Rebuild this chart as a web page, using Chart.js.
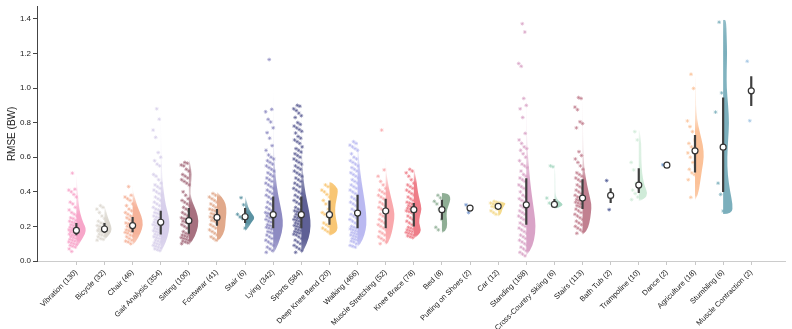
<!DOCTYPE html>
<html>
<head>
<meta charset="utf-8">
<script src="https://cdn.jsdelivr.net/npm/chart.js"></script>
<style>
	html, body { margin: 0; padding: 0; background: #fff; }
	#wrap { width: 792px; height: 329px; }
</style>
</head>
<body>
<div id="wrap"><canvas id="chart"></canvas></div>
<script>
// categories (with sample counts) in plotted order
const categories = ['Vibration (130)', 'Bicycle (32)', 'Chair (46)', 'Gait Analysis (354)', 'Sitting (100)',
	'Footwear (41)', 'Stair (6)', 'Lying (342)', 'Sports (584)', 'Deep Knee Bend (20)', 'Walking (466)',
	'Muscle Stretching (52)', 'Knee Brace (78)', 'Bed (8)', 'Putting on Shoes (2)', 'Car (12)', 'Standing (168)',
	'Cross-Country Skiing (6)', 'Stairs (113)', 'Bath Tub (2)', 'Trampoline (10)', 'Dance (2)', 'Agriculture (18)',
	'Stumbling (6)', 'Muscle Contraction (2)'];

const yTicks = [0, 0.2, 0.4, 0.6, 0.8, 1.0, 1.2, 1.4];

// box summary (RMSE in BW)
const medians = [0.177, 0.185, 0.205, 0.224, 0.233, 0.252, 0.256, 0.268, 0.268, 0.268, 0.277, 0.289, 0.297, 0.297, 0.306, 0.316, 0.325, 0.327, 0.364, 0.379, 0.439, 0.554, 0.637, 0.658, 0.984];
const q1 = [0.149, 0.162, 0.166, 0.153, 0.157, 0.204, 0.22, 0.19, 0.19, 0.21, 0.19, 0.19, 0.2, 0.239, 0.297, 0.297, 0.21, 0.32, 0.30, 0.335, 0.393, 0.552, 0.512, 0.399, 0.896];
const q3 = [0.22, 0.22, 0.255, 0.29, 0.306, 0.30, 0.306, 0.373, 0.373, 0.35, 0.383, 0.36, 0.335, 0.354, 0.315, 0.335, 0.479, 0.358, 0.473, 0.42, 0.537, 0.556, 0.729, 0.946, 1.069];

// half-violin density outlines: [rmse, density]
const vibrationKde = [[0.075, 0], [0.09, 2], [0.12, 5], [0.16, 9], [0.19, 9.5], [0.22, 7], [0.27, 4], [0.32, 2.5], [0.38, 1.5], [0.44, 0.8], [0.5, 0]];
const bicycleKde = [[0.12, 0], [0.14, 3], [0.17, 7], [0.2, 7], [0.24, 4], [0.28, 2], [0.32, 0]];
const chairKde = [[0.09, 0], [0.11, 3], [0.16, 8], [0.21, 10.5], [0.26, 9], [0.31, 5], [0.36, 2.5], [0.40, 0.5], [0.44, 0]];
const gaitKde = [[0.055, 0], [0.08, 3], [0.14, 7], [0.2, 9], [0.26, 8], [0.32, 5], [0.4, 3], [0.48, 1.5], [0.6, 0.8], [0.75, 0.3], [0.9, 0]];
const sittingKde = [[0.09, 0], [0.12, 4], [0.17, 8], [0.23, 10], [0.29, 7.5], [0.34, 3.5], [0.39, 1.5], [0.44, 2], [0.5, 3], [0.56, 1.5], [0.59, 0]];
const footwearKde = [[0.11, 0], [0.13, 4], [0.18, 8], [0.23, 8.5], [0.28, 9.5], [0.33, 9], [0.37, 5], [0.40, 0]];
const stairKde = [[0.17, 0], [0.19, 3], [0.22, 6], [0.25, 10], [0.28, 6], [0.31, 3], [0.34, 2], [0.375, 0]];
const lyingKde = [[0.04, 0], [0.07, 3], [0.13, 7], [0.2, 10], [0.27, 9], [0.35, 6], [0.43, 3.5], [0.52, 2], [0.6, 1], [0.7, 0.5], [0.85, 0.3], [1.0, 0]];
const sportsKde = [[0.04, 0], [0.07, 3], [0.13, 7.5], [0.2, 9.5], [0.27, 8.5], [0.35, 5.5], [0.43, 3], [0.52, 1.5], [0.6, 0.8], [0.75, 0.4], [0.91, 0]];
const kneeBendKde = [[0.145, 0], [0.16, 6], [0.19, 8.5], [0.23, 7], [0.28, 5.5], [0.33, 6], [0.38, 8], [0.42, 8.5], [0.45, 3], [0.46, 0]];
const walkingKde = [[0.08, 0], [0.1, 3], [0.15, 7], [0.21, 9], [0.28, 8.5], [0.35, 7], [0.42, 5], [0.5, 3], [0.58, 1.5], [0.66, 0.6], [0.7, 0]];
const stretchingKde = [[0.09, 0], [0.11, 3], [0.16, 6], [0.22, 8], [0.27, 9], [0.33, 7], [0.4, 4], [0.46, 2], [0.52, 0.5], [0.6, 0]];
const kneeBraceKde = [[0.13, 0], [0.15, 5], [0.18, 7.5], [0.22, 5], [0.26, 6], [0.3, 8], [0.35, 6], [0.4, 4], [0.45, 3], [0.5, 1.5], [0.53, 0]];
const bedKde = [[0.16, 0], [0.175, 4], [0.21, 5.5], [0.26, 4.5], [0.3, 5], [0.34, 8], [0.37, 8.5], [0.39, 6], [0.395, 0]];
const carKde = [[0.255, 0], [0.27, 3], [0.3, 4], [0.32, 6], [0.335, 8], [0.35, 0]];
const standingKde = [[0.03, 0], [0.06, 4], [0.12, 8], [0.2, 9.5], [0.28, 8], [0.36, 6], [0.45, 4], [0.55, 2.5], [0.65, 1.2], [0.75, 0.6], [0.9, 0.3], [1.0, 0]];
const skiingKde = [[0.3, 0], [0.31, 5], [0.325, 9], [0.34, 6], [0.36, 2], [0.4, 1], [0.5, 1], [0.555, 0]];
const stairsKde = [[0.15, 0], [0.17, 4], [0.22, 7], [0.28, 8.5], [0.33, 9], [0.4, 6], [0.47, 3.5], [0.55, 1.5], [0.65, 0.8], [0.75, 0.5], [0.9, 0.2], [0.95, 0]];
const trampolineKde = [[0.345, 0], [0.36, 6], [0.39, 9], [0.43, 6], [0.48, 4], [0.53, 3], [0.6, 2.5], [0.68, 2.5], [0.75, 1], [0.76, 0]];
const agricultureKde = [[0.35, 0], [0.38, 3], [0.45, 5], [0.53, 7], [0.6, 9], [0.67, 8], [0.75, 4.5], [0.82, 2], [0.9, 1], [1.0, 0.7], [1.09, 0]];
const stumblingKde = [[0.272, 0], [0.272, 9], [0.33, 9.5], [0.4, 7], [0.5, 4.5], [0.6, 4], [0.7, 5], [0.8, 6], [0.9, 5], [1.0, 3.5], [1.1, 3.5], [1.2, 4], [1.3, 3.5], [1.395, 3], [1.395, 0]];
const violins = [vibrationKde, bicycleKde, chairKde, gaitKde, sittingKde, footwearKde, stairKde, lyingKde, sportsKde,
	kneeBendKde, walkingKde, stretchingKde, kneeBraceKde, bedKde, [], carKde, standingKde, skiingKde, stairsKde, [],
	trampolineKde, [], agricultureKde, stumblingKde, []];

// individual trials (subset)
const vibrationPts = [0.508, 0.415, 0.41, 0.40, 0.385, 0.37, 0.34, 0.33, 0.31, 0.295, 0.28, 0.27, 0.26, 0.25, 0.245, 0.235, 0.23, 0.225, 0.22, 0.215, 0.21, 0.205, 0.2, 0.195, 0.19, 0.185, 0.18, 0.178, 0.175, 0.17, 0.168, 0.165, 0.16, 0.155, 0.15, 0.148, 0.145, 0.14, 0.135, 0.13, 0.125, 0.12, 0.115, 0.11, 0.105, 0.1, 0.095, 0.09, 0.085, 0.08, 0.07, 0.055];
const bicyclePts = [0.32, 0.31, 0.3, 0.28, 0.26, 0.245, 0.23, 0.22, 0.215, 0.205, 0.2, 0.195, 0.19, 0.185, 0.182, 0.178, 0.175, 0.17, 0.165, 0.16, 0.155, 0.15, 0.145, 0.14, 0.13, 0.125, 0.12];
const chairPts = [0.43, 0.38, 0.37, 0.36, 0.35, 0.33, 0.32, 0.3, 0.29, 0.28, 0.27, 0.26, 0.255, 0.25, 0.24, 0.23, 0.22, 0.215, 0.21, 0.205, 0.2, 0.19, 0.185, 0.18, 0.175, 0.17, 0.165, 0.16, 0.15, 0.145, 0.14, 0.13, 0.12, 0.115, 0.11, 0.1];
const gaitPts = [0.88, 0.82, 0.757, 0.715, 0.627, 0.6, 0.58, 0.56, 0.55, 0.5, 0.49, 0.47, 0.45, 0.44, 0.43, 0.42, 0.41, 0.4, 0.39, 0.38, 0.37, 0.36, 0.35, 0.34, 0.33, 0.32, 0.31, 0.3, 0.295, 0.29, 0.28, 0.275, 0.27, 0.26, 0.255, 0.25, 0.245, 0.24, 0.235, 0.23, 0.225, 0.22, 0.215, 0.21, 0.205, 0.2, 0.195, 0.19, 0.185, 0.18, 0.175, 0.17, 0.165, 0.16, 0.155, 0.15, 0.145, 0.14, 0.135, 0.13, 0.125, 0.12, 0.115, 0.11, 0.105, 0.1, 0.095, 0.09, 0.085, 0.08, 0.075, 0.07, 0.065, 0.06];
const sittingPts = [0.57, 0.565, 0.555, 0.55, 0.53, 0.52, 0.5, 0.49, 0.48, 0.47, 0.46, 0.45, 0.44, 0.4, 0.38, 0.36, 0.35, 0.34, 0.33, 0.32, 0.31, 0.3, 0.29, 0.28, 0.27, 0.26, 0.25, 0.245, 0.24, 0.235, 0.23, 0.225, 0.22, 0.21, 0.2, 0.19, 0.18, 0.17, 0.16, 0.155, 0.15, 0.145, 0.14, 0.135, 0.13, 0.125, 0.12, 0.115, 0.11, 0.105, 0.1];
const footwearPts = [0.39, 0.38, 0.37, 0.36, 0.35, 0.34, 0.33, 0.32, 0.31, 0.3, 0.295, 0.29, 0.28, 0.275, 0.27, 0.26, 0.255, 0.25, 0.245, 0.24, 0.235, 0.23, 0.22, 0.21, 0.2, 0.19, 0.18, 0.17, 0.16, 0.15, 0.14, 0.13, 0.12];
const stairPts = [0.366, 0.325, 0.27, 0.255, 0.245, 0.19];
const lyingPts = [1.165, 0.877, 0.863, 0.819, 0.804, 0.77, 0.742, 0.71, 0.667, 0.64, 0.613, 0.6, 0.59, 0.58, 0.57, 0.56, 0.55, 0.54, 0.53, 0.52, 0.51, 0.5, 0.49, 0.48, 0.47, 0.46, 0.45, 0.44, 0.43, 0.42, 0.41, 0.4, 0.39, 0.38, 0.37, 0.36, 0.35, 0.34, 0.33, 0.32, 0.31, 0.3, 0.29, 0.28, 0.275, 0.27, 0.265, 0.26, 0.25, 0.245, 0.24, 0.23, 0.225, 0.22, 0.21, 0.205, 0.2, 0.195, 0.19, 0.185, 0.18, 0.17, 0.165, 0.16, 0.15, 0.14, 0.13, 0.12, 0.11, 0.1, 0.09, 0.08, 0.07, 0.06, 0.05];
const sportsPts = [0.9, 0.895, 0.88, 0.87, 0.855, 0.84, 0.83, 0.8, 0.79, 0.78, 0.77, 0.76, 0.75, 0.74, 0.72, 0.71, 0.7, 0.69, 0.68, 0.66, 0.65, 0.64, 0.63, 0.62, 0.61, 0.6, 0.59, 0.58, 0.57, 0.56, 0.55, 0.54, 0.53, 0.52, 0.51, 0.5, 0.49, 0.48, 0.47, 0.46, 0.45, 0.44, 0.43, 0.42, 0.41, 0.4, 0.39, 0.38, 0.37, 0.36, 0.35, 0.34, 0.33, 0.32, 0.31, 0.3, 0.295, 0.29, 0.285, 0.28, 0.275, 0.27, 0.265, 0.26, 0.255, 0.25, 0.245, 0.24, 0.235, 0.23, 0.225, 0.22, 0.215, 0.21, 0.205, 0.2, 0.195, 0.19, 0.185, 0.18, 0.175, 0.17, 0.165, 0.16, 0.155, 0.15, 0.14, 0.13, 0.12, 0.11, 0.1, 0.09, 0.08, 0.07, 0.06, 0.05];
const kneeBendPts = [0.44, 0.43, 0.41, 0.4, 0.385, 0.37, 0.35, 0.33, 0.3, 0.28, 0.27, 0.26, 0.24, 0.22, 0.21, 0.2, 0.19, 0.18, 0.17, 0.16];
const walkingPts = [0.69, 0.68, 0.67, 0.66, 0.65, 0.64, 0.62, 0.6, 0.59, 0.58, 0.57, 0.56, 0.55, 0.54, 0.53, 0.52, 0.51, 0.5, 0.49, 0.48, 0.47, 0.46, 0.45, 0.44, 0.43, 0.42, 0.41, 0.4, 0.39, 0.38, 0.37, 0.36, 0.35, 0.34, 0.33, 0.32, 0.31, 0.3, 0.29, 0.28, 0.27, 0.26, 0.25, 0.24, 0.23, 0.22, 0.21, 0.2, 0.195, 0.19, 0.185, 0.18, 0.175, 0.17, 0.165, 0.16, 0.155, 0.15, 0.145, 0.14, 0.135, 0.13, 0.125, 0.12, 0.115, 0.11, 0.1, 0.09, 0.085, 0.08];
const stretchingPts = [0.757, 0.527, 0.49, 0.46, 0.44, 0.42, 0.41, 0.4, 0.39, 0.38, 0.37, 0.36, 0.35, 0.34, 0.33, 0.32, 0.31, 0.3, 0.29, 0.28, 0.27, 0.26, 0.25, 0.24, 0.23, 0.22, 0.21, 0.2, 0.19, 0.18, 0.17, 0.16, 0.15, 0.14, 0.13, 0.12, 0.11, 0.1];
const kneeBracePts = [0.53, 0.52, 0.51, 0.49, 0.47, 0.45, 0.44, 0.43, 0.42, 0.41, 0.4, 0.39, 0.38, 0.37, 0.36, 0.35, 0.34, 0.335, 0.33, 0.325, 0.32, 0.315, 0.31, 0.305, 0.3, 0.295, 0.29, 0.285, 0.28, 0.27, 0.26, 0.25, 0.24, 0.23, 0.22, 0.21, 0.2, 0.195, 0.19, 0.185, 0.18, 0.175, 0.17, 0.165, 0.16, 0.155, 0.15, 0.145, 0.14, 0.135];
const bedPts = [0.38, 0.365, 0.345, 0.33, 0.3, 0.24, 0.195, 0.18];
const shoesPts = [0.325, 0.28];
const carPts = [0.345, 0.34, 0.335, 0.33, 0.325, 0.32, 0.315, 0.31, 0.3, 0.29, 0.28, 0.27];
const standingPts = [1.372, 1.324, 1.142, 1.126, 0.94, 0.9, 0.88, 0.83, 0.738, 0.7, 0.68, 0.66, 0.65, 0.64, 0.62, 0.6, 0.58, 0.56, 0.55, 0.54, 0.52, 0.5, 0.49, 0.48, 0.47, 0.46, 0.44, 0.43, 0.42, 0.41, 0.4, 0.38, 0.37, 0.36, 0.35, 0.34, 0.33, 0.32, 0.31, 0.3, 0.29, 0.28, 0.27, 0.26, 0.25, 0.24, 0.23, 0.22, 0.21, 0.2, 0.19, 0.18, 0.17, 0.16, 0.15, 0.14, 0.13, 0.12, 0.11, 0.1, 0.09, 0.08, 0.07, 0.06, 0.05, 0.04, 0.03];
const skiingPts = [0.55, 0.545, 0.364, 0.335, 0.325, 0.32];
const stairsPts = [0.945, 0.94, 0.89, 0.875, 0.805, 0.795, 0.77, 0.632, 0.61, 0.59, 0.57, 0.55, 0.53, 0.51, 0.5, 0.49, 0.48, 0.47, 0.46, 0.45, 0.44, 0.43, 0.42, 0.41, 0.4, 0.39, 0.38, 0.37, 0.365, 0.36, 0.355, 0.35, 0.345, 0.34, 0.335, 0.33, 0.325, 0.32, 0.315, 0.31, 0.3, 0.29, 0.28, 0.27, 0.26, 0.25, 0.24, 0.23, 0.22, 0.21, 0.2, 0.19, 0.18, 0.17, 0.16];
const bathTubPts = [0.465, 0.297];
const trampolinePts = [0.748, 0.70, 0.57, 0.527, 0.45, 0.43, 0.41, 0.39, 0.37, 0.355];
const dancePts = [0.556, 0.552];
const agriculturePts = [1.08, 0.998, 0.81, 0.777, 0.748, 0.7, 0.68, 0.66, 0.65, 0.625, 0.6, 0.57, 0.55, 0.53, 0.51, 0.5, 0.47, 0.368];
const stumblingPts = [1.381, 0.972, 0.861, 0.45, 0.385, 0.289];
const contractionPts = [1.155, 0.811];
const points = [vibrationPts, bicyclePts, chairPts, gaitPts, sittingPts, footwearPts, stairPts, lyingPts, sportsPts,
	kneeBendPts, walkingPts, stretchingPts, kneeBracePts, bedPts, shoesPts, carPts, standingPts, skiingPts, stairsPts,
	bathTubPts, trampolinePts, dancePts, agriculturePts, stumblingPts, contractionPts];

const colors = ['#f7a6c9', '#dcd8d0', '#f6b39a', '#d7cfeb', '#a7707f', '#e1a98b', '#5a92a2', '#8e8bc2', '#5e6095',
	'#f8c674', '#bab9f1', '#f9a8ac', '#ee7d88', '#8fae95', '#6b8fca', '#f4da8b', '#d9a3c7', '#a7d7c2', '#c18090',
	'#45528f', '#cfebd8', '#5f8ec8', '#fbc198', '#7bafbc', '#9fc3e2'];

const FONT = 'Liberation Sans, Arial, Helvetica, sans-serif';
const KDE_SCALE = 1 / 28;   // density -> category units

function rgba(hex, a) {
	const n = parseInt(hex.slice(1), 16);
	return 'rgba(' + (n >> 16) + ',' + ((n >> 8) & 255) + ',' + (n & 255) + ',' + a + ')';
}

// half violins on the right of each category
const violinPlugin = {
	id: 'violins',
	beforeDatasetsDraw(chart) {
		const ctx = chart.ctx;
		const x = chart.scales.x, y = chart.scales.y;
		ctx.save();
		violins.forEach((prof, i) => {
			if (!prof.length) return;
			const cx = x.getPixelForValue(i);
			const pts = prof.map(p => [x.getPixelForValue(i + p[1] * KDE_SCALE), y.getPixelForValue(p[0])]);
			const dmax = Math.max(...prof.map(p => p[1]));
			const n = pts.length;
			ctx.beginPath();
			ctx.moveTo(cx, pts[0][1]);
			ctx.lineTo(pts[0][0], pts[0][1]);
			for (let k = 1; k < n - 1; k++) {
				const mx = (pts[k][0] + pts[k + 1][0]) / 2, my = (pts[k][1] + pts[k + 1][1]) / 2;
				ctx.quadraticCurveTo(pts[k][0], pts[k][1], mx, my);
			}
			ctx.lineTo(pts[n - 1][0], pts[n - 1][1]);
			ctx.lineTo(cx, pts[n - 1][1]);
			ctx.closePath();
			const y0 = pts[0][1], y1 = pts[n - 1][1];
			const grad = ctx.createLinearGradient(0, y0, 0, y1);
			prof.forEach((p, k) => {
				const t = Math.min(1, Math.max(0, (y0 - pts[k][1]) / (y0 - y1)));
				const a = Math.max(0.12, Math.min(1, p[1] / dmax * 2.6));
				grad.addColorStop(t, rgba(colors[i], a));
			});
			ctx.fillStyle = grad;
			ctx.fill();
		});
		ctx.restore();
	}
};

const datasets = [];
datasets.push({
	label: 'median',
	data: medians.map((m, i) => ({x: i, y: m})),
	pointRadius: 3,
	pointStyle: 'circle',
	pointBackgroundColor: '#ffffff',
	pointBorderColor: '#333333',
	pointBorderWidth: 1.2
});
const iqr = [];
q1.forEach((v, i) => { iqr.push({x: i, y: v}, {x: i, y: q3[i]}, {x: i, y: null}); });
datasets.push({
	label: 'iqr',
	data: iqr,
	showLine: true,
	spanGaps: false,
	pointRadius: 0,
	borderColor: '#404040',
	borderWidth: 2.2
});
points.forEach((vals, i) => {
	datasets.push({
		label: categories[i],
		data: vals.map((v, k) => ({x: i - 0.27 + 0.3 * (((k * 53 + 17) % 41) / 40), y: v})),
		pointStyle: 'star',
		pointRadius: 1.9,
		pointBorderWidth: 0.8,
		pointBorderColor: rgba(colors[i], 0.8),
		pointBackgroundColor: rgba(colors[i], 0.4)
	});
});

new Chart(document.getElementById('chart'), {
	type: 'scatter',
	data: {datasets: datasets},
	plugins: [violinPlugin],
	options: {
		responsive: true,
		maintainAspectRatio: false,
		animation: false,
		layout: {padding: {top: 6, right: 7, left: 0, bottom: 0}},
		plugins: {legend: {display: false}, tooltip: {enabled: false}},
		scales: {
			x: {
				type: 'linear',
				min: -1.4,
				max: 25.2,
				afterBuildTicks: scale => { scale.ticks = categories.map((c, i) => ({value: i})); },
				afterFit: scale => { scale.height = 68; },
				grid: {display: true, drawOnChartArea: false, drawTicks: true, tickLength: 4, color: '#c8c8c8'},
				border: {display: true, color: '#cccccc', width: 1},
				ticks: {
					autoSkip: false,
					minRotation: 45,
					maxRotation: 45,
					padding: 3,
					color: '#222',
					font: {family: FONT, size: 7.5},
					callback: (v, idx) => categories[idx]
				}
			},
			y: {
				min: 0,
				max: 1.47,
				afterBuildTicks: scale => { scale.ticks = yTicks.map(v => ({value: v})); },
				afterFit: scale => { scale.width = 37; },
				grid: {display: true, drawOnChartArea: false, drawTicks: true, tickLength: 4, color: '#444'},
				border: {display: true, color: '#444444', width: 1},
				ticks: {
					padding: 2,
					color: '#222',
					font: {family: FONT, size: 8},
					callback: v => v.toFixed(1)
				},
				title: {
					display: true,
					text: 'RMSE (BW)',
					color: '#222',
					font: {family: FONT, size: 10},
					padding: {top: 6, bottom: 0}
				}
			}
		}
	}
});
</script>
</body>
</html>
